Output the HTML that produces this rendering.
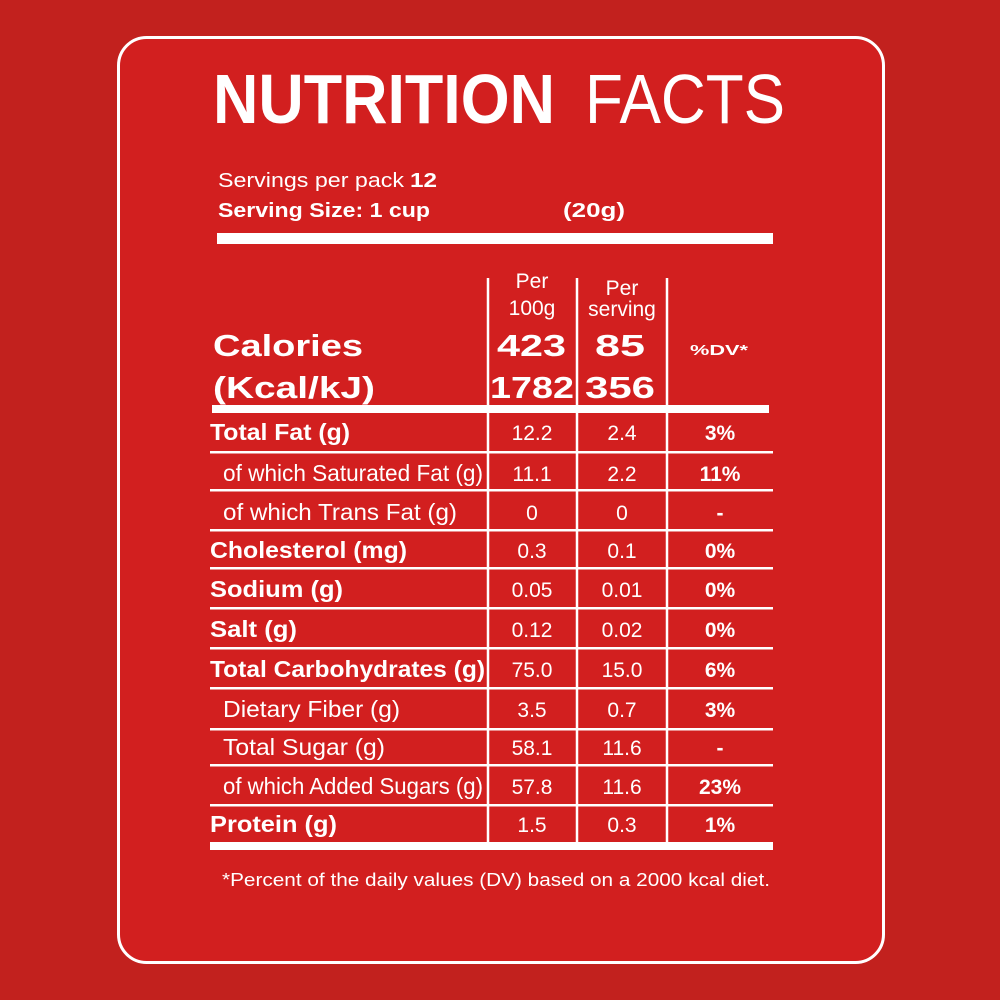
<!DOCTYPE html>
<html><head><style>html,body{margin:0;padding:0;background:#c2211e}svg{display:block}</style></head>
<body>
<svg width="1000" height="1000" viewBox="0 0 1000 1000" xmlns="http://www.w3.org/2000/svg" font-family="Liberation Sans, sans-serif" fill="#fff">
<rect width="1000" height="1000" fill="#c2211e"/>
<rect x="118.5" y="37.5" width="765" height="925" rx="28" fill="#d21f1f" stroke="#fff" stroke-width="3"/>
<text x="213" y="123" font-size="70" font-weight="bold" textLength="342" lengthAdjust="spacingAndGlyphs">NUTRITION</text>
<text x="585" y="123" font-size="70" textLength="200" lengthAdjust="spacingAndGlyphs">FACTS</text>
<text x="218" y="187" font-size="20" textLength="186" lengthAdjust="spacingAndGlyphs">Servings per pack</text>
<text x="410" y="187" font-size="20" font-weight="bold" textLength="27" lengthAdjust="spacingAndGlyphs">12</text>
<text x="218" y="217" font-size="20" font-weight="bold" textLength="212" lengthAdjust="spacingAndGlyphs">Serving Size: 1 cup</text>
<text x="563" y="217" font-size="20" font-weight="bold" textLength="62" lengthAdjust="spacingAndGlyphs">(20g)</text>
<rect x="217" y="233" width="556" height="11"/>
<g stroke="#fff" stroke-width="2.5">
<line x1="488" y1="278" x2="488" y2="843"/><line x1="577" y1="278" x2="577" y2="843"/><line x1="667" y1="278" x2="667" y2="843"/>
</g>
<g font-size="21" text-anchor="middle">
<text x="532" y="288">Per</text><text x="532" y="315">100g</text>
<text x="622" y="295">Per</text><text x="622" y="316">serving</text>
</g>
<text x="213" y="356" font-size="31" font-weight="bold" textLength="150" lengthAdjust="spacingAndGlyphs">Calories</text>
<text x="213" y="398" font-size="31" font-weight="bold" textLength="162" lengthAdjust="spacingAndGlyphs">(Kcal/kJ)</text>
<g font-size="31" font-weight="bold">
<text x="497" y="356" textLength="69" lengthAdjust="spacingAndGlyphs">423</text>
<text x="490" y="398" textLength="84" lengthAdjust="spacingAndGlyphs">1782</text>
<text x="595" y="356" textLength="50" lengthAdjust="spacingAndGlyphs">85</text>
<text x="585" y="398" textLength="70" lengthAdjust="spacingAndGlyphs">356</text>
</g>
<text x="690" y="355" font-size="15" font-weight="bold" textLength="58" lengthAdjust="spacingAndGlyphs">%DV*</text>
<rect x="212" y="405" width="557" height="8"/>
<g fill="#fff">
<rect x="210" y="451" width="563" height="2.5"/><rect x="210" y="489" width="563" height="2.5"/>
<rect x="210" y="529" width="563" height="2.5"/><rect x="210" y="567" width="563" height="2.5"/>
<rect x="210" y="607" width="563" height="2.5"/><rect x="210" y="647" width="563" height="2.5"/>
<rect x="210" y="687" width="563" height="2.5"/><rect x="210" y="728" width="563" height="2.5"/>
<rect x="210" y="764" width="563" height="2.5"/><rect x="210" y="804" width="563" height="2.5"/>
</g>
<rect x="210" y="842" width="563" height="8"/>
<g font-size="23">
<text x="210" y="440" font-weight="bold" textLength="140" lengthAdjust="spacingAndGlyphs">Total Fat (g)</text>
<text x="223" y="481" textLength="260" lengthAdjust="spacingAndGlyphs">of which Saturated Fat (g)</text>
<text x="223" y="520" textLength="234" lengthAdjust="spacingAndGlyphs">of which Trans Fat (g)</text>
<text x="210" y="558" font-weight="bold" textLength="197" lengthAdjust="spacingAndGlyphs">Cholesterol (mg)</text>
<text x="210" y="597" font-weight="bold" textLength="133" lengthAdjust="spacingAndGlyphs">Sodium (g)</text>
<text x="210" y="637" font-weight="bold" textLength="87" lengthAdjust="spacingAndGlyphs">Salt (g)</text>
<text x="210" y="677" font-weight="bold" textLength="275" lengthAdjust="spacingAndGlyphs">Total Carbohydrates (g)</text>
<text x="223" y="717" textLength="177" lengthAdjust="spacingAndGlyphs">Dietary Fiber (g)</text>
<text x="223" y="755" textLength="162" lengthAdjust="spacingAndGlyphs">Total Sugar (g)</text>
<text x="223" y="794" textLength="260" lengthAdjust="spacingAndGlyphs">of which Added Sugars (g)</text>
<text x="210" y="832" font-weight="bold" textLength="127" lengthAdjust="spacingAndGlyphs">Protein (g)</text>
</g>
<g font-size="21" text-anchor="middle">
<text x="532" y="440">12.2</text><text x="622" y="440">2.4</text><text x="720" y="440" font-weight="bold">3%</text>
<text x="532" y="481">11.1</text><text x="622" y="481">2.2</text><text x="720" y="481" font-weight="bold">11%</text>
<text x="532" y="520">0</text><text x="622" y="520">0</text><text x="720" y="520" font-weight="bold">-</text>
<text x="532" y="558">0.3</text><text x="622" y="558">0.1</text><text x="720" y="558" font-weight="bold">0%</text>
<text x="532" y="597">0.05</text><text x="622" y="597">0.01</text><text x="720" y="597" font-weight="bold">0%</text>
<text x="532" y="637">0.12</text><text x="622" y="637">0.02</text><text x="720" y="637" font-weight="bold">0%</text>
<text x="532" y="677">75.0</text><text x="622" y="677">15.0</text><text x="720" y="677" font-weight="bold">6%</text>
<text x="532" y="717">3.5</text><text x="622" y="717">0.7</text><text x="720" y="717" font-weight="bold">3%</text>
<text x="532" y="755">58.1</text><text x="622" y="755">11.6</text><text x="720" y="755" font-weight="bold">-</text>
<text x="532" y="794">57.8</text><text x="622" y="794">11.6</text><text x="720" y="794" font-weight="bold">23%</text>
<text x="532" y="832">1.5</text><text x="622" y="832">0.3</text><text x="720" y="832" font-weight="bold">1%</text>
</g>
<text x="222" y="886" font-size="18" textLength="548" lengthAdjust="spacingAndGlyphs">*Percent of the daily values (DV) based on a 2000 kcal diet.</text>
</svg>
</body></html>
